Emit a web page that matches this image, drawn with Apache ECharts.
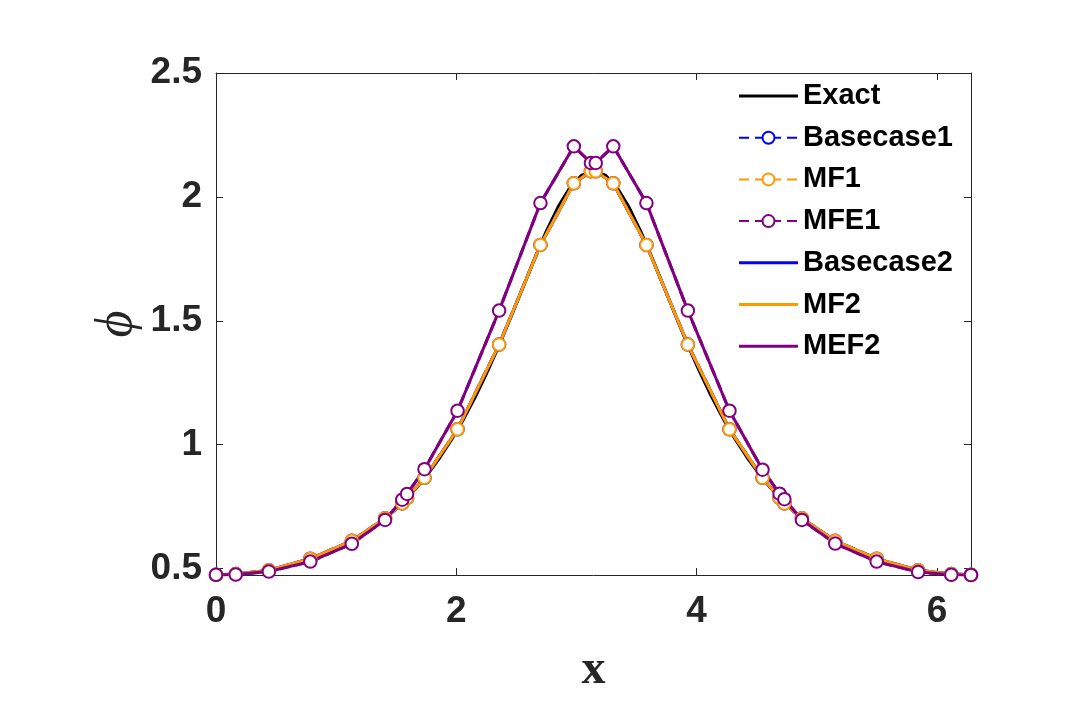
<!DOCTYPE html>
<html>
<head>
<meta charset="utf-8">
<script src="https://cdn.jsdelivr.net/npm/echarts@6/dist/echarts.min.js"></script>
<style>
  html, body { margin: 0; padding: 0; background: #fff; }
  #chart { width: 1080px; height: 720px; }
</style>
</head>
<body>
<div id="chart"></div>
<script>
// exact solution, sampled densely along x
const xExact = [0, 0.098, 0.196, 0.295, 0.393, 0.491, 0.589, 0.687, 0.785, 0.884, 0.982, 1.080, 1.178, 1.276, 1.374, 1.473,
  1.571, 1.669, 1.767, 1.865, 1.963, 2.062, 2.160, 2.258, 2.356, 2.454, 2.553, 2.651, 2.749, 2.847, 2.945, 3.043,
  3.142, 3.240, 3.338, 3.436, 3.534, 3.632, 3.731, 3.829, 3.927, 4.025, 4.123, 4.221, 4.320, 4.418, 4.516, 4.614,
  4.712, 4.811, 4.909, 5.007, 5.105, 5.203, 5.301, 5.400, 5.498, 5.596, 5.694, 5.792, 5.890, 5.989, 6.087, 6.185, 6.283];
const yExact = [0.475, 0.476, 0.479, 0.483, 0.490, 0.498, 0.508, 0.521, 0.536, 0.553, 0.574, 0.597, 0.624, 0.655, 0.690, 0.730,
  0.775, 0.826, 0.884, 0.949, 1.022, 1.104, 1.194, 1.294, 1.401, 1.515, 1.633, 1.751, 1.862, 1.960, 2.038, 2.088,
  2.105, 2.088, 2.038, 1.960, 1.862, 1.751, 1.633, 1.515, 1.401, 1.294, 1.194, 1.104, 1.022, 0.949, 0.884, 0.826,
  0.775, 0.730, 0.690, 0.655, 0.624, 0.597, 0.574, 0.553, 0.536, 0.521, 0.508, 0.498, 0.490, 0.483, 0.479, 0.476, 0.475];

// solution nodes (4 elements, doubled points at the element joins)
const xNodes = [0, 0.164, 0.44, 0.785, 1.13, 1.407, 1.55, 1.59, 1.735, 2.01, 2.356, 2.70, 2.978, 3.12,
  3.16, 3.306, 3.582, 3.927, 4.273, 4.548, 4.69, 4.73, 4.876, 5.153, 5.498, 5.843, 6.119, 6.283];
const mf1 = [0.475, 0.478, 0.493, 0.540, 0.612, 0.703, 0.763, 0.785, 0.866, 1.062, 1.404, 1.806, 2.055, 2.103,
  2.103, 2.055, 1.806, 1.404, 1.062, 0.866, 0.785, 0.763, 0.703, 0.612, 0.540, 0.493, 0.478, 0.475];
const mfe1 = [0.475, 0.476, 0.488, 0.528, 0.600, 0.696, 0.778, 0.801, 0.901, 1.137, 1.541, 1.975, 2.204, 2.137,
  2.137, 2.204, 1.975, 1.541, 1.137, 0.899, 0.802, 0.780, 0.696, 0.601, 0.528, 0.486, 0.475, 0.474];
// basecase curves sit exactly under the MF curves in the picture
const basecase1 = mf1.slice();
const basecase2 = mf1.slice();
const mf2 = mf1.slice();
const mef2 = mfe1.slice();

const xTicks = [0, 2, 4, 6];
const yTicks = [0.5, 1, 1.5, 2, 2.5];

const axisColor = '#262626';
const labelFont = 'Liberation Sans, Arial, sans-serif';
// plain line used as legend icon for the unmarked series
const lineIcon = 'path://M0,0H59V3H0Z';

const pairs = (xs, ys) => xs.map((x, i) => [x, ys[i]]);

const chart = echarts.init(document.getElementById('chart'));

const markedSeries = (name, color, values) => ({
  name: name,
  type: 'line',
  data: pairs(xNodes, values),
  symbol: 'emptyCircle',
  symbolSize: 12.5,
  itemStyle: { color: color, borderWidth: 3.5 },
  lineStyle: { color: color, width: 3, type: [10, 6] },
});

const plainSeries = (name, color, values) => ({
  name: name,
  type: 'line',
  data: pairs(xNodes, values),
  symbol: 'none',
  itemStyle: { color: color },
  lineStyle: { color: color, width: 3 },
});

const frameAxis = {
  type: 'value',
  axisLine: { onZero: false, lineStyle: { color: axisColor, width: 1 } },
  splitLine: { show: false },
};

chart.setOption({
  animation: false,
  backgroundColor: '#fff',
  grid: { left: 216, right: 109, top: 73, bottom: 145 },
  legend: {
    orient: 'vertical',
    left: 733,
    top: 76,
    itemWidth: 59,
    itemHeight: 15,
    itemGap: 11.7,
    textStyle: { fontFamily: labelFont, fontWeight: 'bold', fontSize: 29, color: '#000', lineHeight: 30 },
    data: [
      { name: 'Exact', icon: lineIcon },
      { name: 'Basecase1' },
      { name: 'MF1' },
      { name: 'MFE1' },
      { name: 'Basecase2', icon: lineIcon },
      { name: 'MF2', icon: lineIcon },
      { name: 'MEF2', icon: lineIcon },
    ],
  },
  xAxis: [
    Object.assign({}, frameAxis, {
      min: 0,
      max: 6.283,
      position: 'bottom',
      axisTick: { inside: true, length: 7, customValues: xTicks, lineStyle: { color: axisColor } },
      axisLabel: {
        customValues: xTicks, margin: 18, fontSize: 37, fontWeight: 'bold',
        fontFamily: labelFont, color: axisColor,
      },
      name: 'x',
      nameLocation: 'middle',
      nameGap: 72,
      nameTextStyle: { fontFamily: 'Liberation Serif, Times New Roman, serif', fontWeight: 'bold', fontSize: 48, color: axisColor },
    }),
    Object.assign({}, frameAxis, {
      min: 0,
      max: 6.283,
      position: 'top',
      axisTick: { inside: true, length: 7, customValues: xTicks, lineStyle: { color: axisColor } },
      axisLabel: { show: false },
    }),
  ],
  yAxis: [
    Object.assign({}, frameAxis, {
      min: 0.474,
      max: 2.5,
      position: 'left',
      axisTick: { inside: true, length: 7, customValues: yTicks, lineStyle: { color: axisColor } },
      axisLabel: {
        customValues: yTicks, margin: 14, fontSize: 37, fontWeight: 'bold',
        fontFamily: labelFont, color: axisColor,
      },
      name: '\u03D5',
      nameLocation: 'middle',
      nameGap: 73,
      nameMoveOverlap: false,
      nameTextStyle: { fontFamily: 'Liberation Serif, DejaVu Serif, serif', fontStyle: 'italic', fontSize: 52, color: axisColor },
    }),
    Object.assign({}, frameAxis, {
      min: 0.474,
      max: 2.5,
      position: 'right',
      axisTick: { inside: true, length: 7, customValues: yTicks, lineStyle: { color: axisColor } },
      axisLabel: { show: false },
    }),
  ],
  series: [
    {
      name: 'Exact',
      type: 'line',
      data: pairs(xExact, yExact),
      symbol: 'none',
      itemStyle: { color: '#000' },
      lineStyle: { color: '#000', width: 3 },
    },
    markedSeries('Basecase1', '#0000ff', basecase1),
    markedSeries('MF1', '#ff9900', mf1),
    markedSeries('MFE1', '#800080', mfe1),
    plainSeries('Basecase2', '#0000ff', basecase2),
    plainSeries('MF2', '#ff9900', mf2),
    plainSeries('MEF2', '#800080', mef2),
  ],
});
</script>
</body>
</html>
